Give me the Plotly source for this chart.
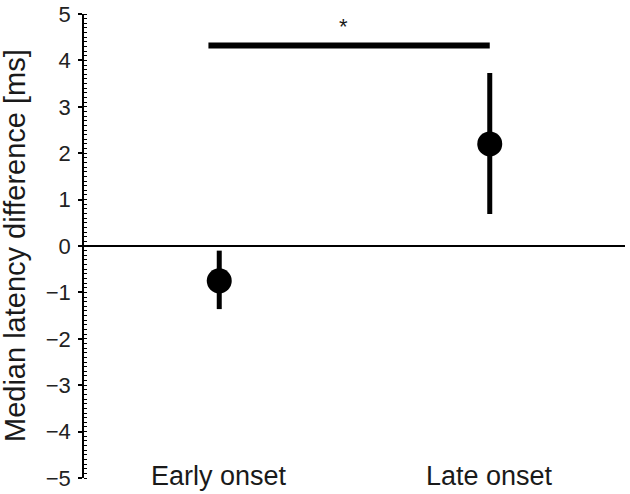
import plotly.graph_objects as go

categories = ["Early onset", "Late onset"]
medians = [-0.75, 2.2]
err_low = [-1.36, 0.69]
err_high = [-0.1, 3.73]
y_ticks = [-5, -4, -3, -2, -1, 0, 1, 2, 3, 4, 5]
y_tick_text = ["\u22125", "\u22124", "\u22123", "\u22122", "\u22121", "0", "1", "2", "3", "4", "5"]
sig_y = 4.32
sig_x = [-0.04, 1.0]
sig_label = "*"
y_title = "Median latency difference [ms]"

FONT = "Liberation Sans, Arial, Helvetica, sans-serif"
ML, MR, MT, MB = 84, 5, 14, 16
plot_w = 630 - ML - MR

xpos = list(range(len(categories)))
fig = go.Figure()
fig.add_trace(go.Scatter(
    x=sig_x, y=[sig_y, sig_y], mode="lines",
    line=dict(color="black", width=6), hoverinfo="skip", showlegend=False))
fig.add_trace(go.Scatter(
    x=xpos, y=medians, mode="markers",
    marker=dict(color="black", size=25),
    error_y=dict(type="data", symmetric=False,
                 array=[h - m for h, m in zip(err_high, medians)],
                 arrayminus=[m - l for m, l in zip(medians, err_low)],
                 color="black", thickness=5, width=0),
    showlegend=False))

for i, c in enumerate(categories):
    fig.add_annotation(x=xpos[i], y=-4.95, xref="x", yref="y", text=c,
                       showarrow=False, yanchor="middle",
                       font=dict(size=27, color="#1a1a1a", family=FONT))
fig.add_annotation(x=0.46, y=4.72, xref="x", yref="y",
                   text=sig_label, showarrow=False,
                   font=dict(size=22, color="#1a1a1a", family=FONT))
fig.add_annotation(x=(15 - ML) / plot_w, y=0.5, xref="paper", yref="paper", text=y_title,
                   textangle=-90, showarrow=False, xanchor="center", yanchor="middle",
                   font=dict(size=29, color="#1a1a1a", family=FONT))

fig.update_layout(
    width=630, height=494,
    margin=dict(l=ML, r=MR, t=MT, b=MB),
    plot_bgcolor="white", paper_bgcolor="white",
    font=dict(family=FONT, color="#1a1a1a"),
    xaxis=dict(range=[-0.5, 1.5], showticklabels=False, ticks="", showgrid=False,
               zeroline=False, showline=False, automargin=False),
    yaxis=dict(range=[-5, 5], tickvals=y_ticks, ticktext=y_tick_text,
               tickfont=dict(size=22, color="#222"), ticks="outside", ticklen=4, tickwidth=1.5,
               tickcolor="black", showline=True, linecolor="black", linewidth=1.5,
               showgrid=False, zeroline=True, zerolinecolor="black", zerolinewidth=1.5,
               automargin=False, ticklabelstandoff=3,
               minor=dict(dtick=0.1, ticks="inside", ticklen=3, tickcolor="black", tickwidth=1)),
)
fig.write_html("out.html", config={"displayModeBar": False},
               post_script="document.body.style.margin='0px';")
